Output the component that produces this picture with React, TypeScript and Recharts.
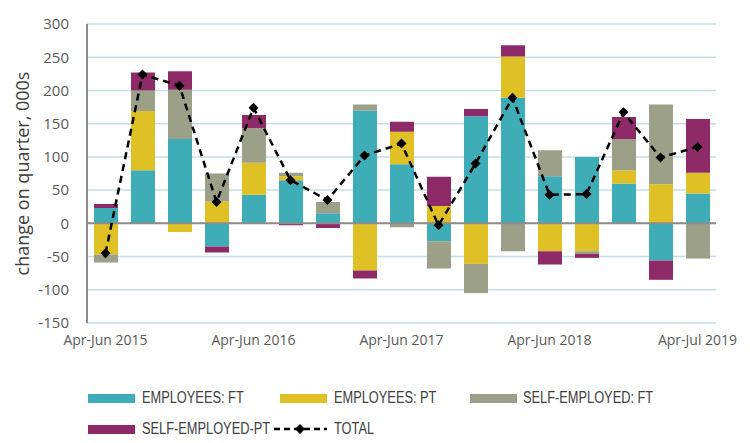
import { ComposedChart, Bar, Line, XAxis, YAxis, CartesianGrid, ReferenceLine } from "recharts"

const CATEGORIES = [
  "Apr-Jun 2015", "Jul-Sep 2015", "Oct-Dec 2015", "Jan-Mar 2016",
  "Apr-Jun 2016", "Jul-Sep 2016", "Oct-Dec 2016", "Jan-Mar 2017",
  "Apr-Jun 2017", "Jul-Sep 2017", "Oct-Dec 2017", "Jan-Mar 2018",
  "Apr-Jun 2018", "Jul-Sep 2018", "Oct-Dec 2018", "Jan-Mar 2019",
  "Apr-Jul 2019",
]
const EMP_FT = [23, 80, 127, -35, 43, 65, 15, 170, 89, -27, 161, 189, 71, 100, 60, -56, 45]
const EMP_PT = [-47, 89, -13, 33, 48, 6, 0, -71, 49, 26, -61, 62, -42, -42, 20, 59, 31]
const SELF_FT = [-12, 31, 74, 42, 52, 5, 17, 9, -6, -41, -44, -42, 39, -4, 47, 120, -53]
const SELF_PT = [6, 27, 28, -9, 20, -3, -7, -12, 15, 44, 11, 17, -20, -6, 33, -29, 81]
const TOTAL = [-45, 224, 207, 32, 174, 65, 35, 102, 120, -3, 90, 189, 43, 44, 167, 99, 115]
const Y_TICKS = [-150, -100, -50, 0, 50, 100, 150, 200, 250, 300]

const TEAL = "#3fadb7"
const YELLOW = "#dfc126"
const GREY = "#9da088"
const PURPLE = "#8f2a69"

const data = CATEGORIES.map((name, i) => ({
  name,
  empFt: EMP_FT[i],
  empPt: EMP_PT[i],
  selfFt: SELF_FT[i],
  selfPt: SELF_PT[i],
  total: TOTAL[i],
}))

const Diamond = (props: any) => {
  const { cx, cy } = props
  if (cx == null || cy == null) return null
  const r = 5
  return <polygon points={`${cx},${cy - r} ${cx + r},${cy} ${cx},${cy + r} ${cx - r},${cy}`} fill="#000" />
}

// condensed look: normal sans squeezed horizontally
const legendText = {
  fontFamily: "'Liberation Sans', sans-serif",
  fontSize: 16,
  color: "#404040",
  position: "absolute" as const,
  lineHeight: "18px",
  whiteSpace: "nowrap" as const,
  transform: "scaleX(0.8)",
  transformOrigin: "left center",
}

const Swatch = ({ left, top, color }: { left: number; top: number; color: string }) => (
  <div style={{ position: "absolute", left, top, width: 47, height: 9, background: color }} />
)

export default function App() {
  return (
    <div style={{ position: "absolute", left: 0, top: 0, width: 750, height: 443, background: "#fff" }}>
      <ComposedChart
        width={750}
        height={443}
        data={data}
        stackOffset="sign"
        margin={{ top: 24, right: 34, bottom: 90, left: 0 }}
      >
        <CartesianGrid vertical={false} stroke="#c3dfe4" strokeWidth={1.5} />
        <XAxis
          dataKey="name"
          interval={3}
          axisLine={false}
          tickLine={false}
          tickSize={0}
          tickMargin={12}
          height={30}
          tick={{ fill: "#595959", fontSize: 14, fontFamily: "'Open Sans', sans-serif" }}
        />
        <YAxis
          width={87}
          domain={[-150, 300]}
          ticks={Y_TICKS}
          allowDataOverflow
          axisLine={{ stroke: "#8c8c8c", strokeWidth: 2 }}
          tickLine={false}
          tickSize={0}
          tickMargin={18}
          tick={{ fill: "#595959", fontSize: 15, fontFamily: "'Open Sans', sans-serif" }}
          label={({ viewBox }: any) => {
            const cy = viewBox.y + viewBox.height / 2
            return (
              <text
                x={22}
                y={cy}
                transform={`rotate(-90 22 ${cy})`}
                textAnchor="middle"
                dominantBaseline="central"
                fill="#404040"
                fontSize={18}
                fontFamily="'Open Sans', sans-serif"
              >
                change on quarter, 000s
              </text>
            )
          }}
        />
        <Bar dataKey="empFt" stackId="a" fill={TEAL} barSize={24} isAnimationActive={false} />
        <Bar dataKey="empPt" stackId="a" fill={YELLOW} barSize={24} isAnimationActive={false} />
        <Bar dataKey="selfFt" stackId="a" fill={GREY} barSize={24} isAnimationActive={false} />
        <Bar dataKey="selfPt" stackId="a" fill={PURPLE} barSize={24} isAnimationActive={false} />
        <ReferenceLine y={0} stroke="#8c8c8c" strokeWidth={2} />
        <Line
          dataKey="total"
          type="linear"
          stroke="#000"
          strokeWidth={2.5}
          strokeDasharray="7 5"
          dot={<Diamond />}
          activeDot={false}
          isAnimationActive={false}
        />
      </ComposedChart>

      <Swatch left={88} top={394} color={TEAL} />
      <div style={{ ...legendText, left: 142, top: 389 }}>EMPLOYEES: FT</div>
      <Swatch left={280} top={394} color={YELLOW} />
      <div style={{ ...legendText, left: 334, top: 389 }}>EMPLOYEES: PT</div>
      <Swatch left={470} top={394} color={GREY} />
      <div style={{ ...legendText, left: 523, top: 389 }}>SELF-EMPLOYED: FT</div>

      <Swatch left={88} top={425} color={PURPLE} />
      <div style={{ ...legendText, left: 142, top: 420 }}>SELF-EMPLOYED-PT</div>
      <svg style={{ position: "absolute", left: 273, top: 421 }} width={55} height={16}>
        <line x1={1} y1={8} x2={54} y2={8} stroke="#000" strokeWidth={2.5} strokeDasharray="6 4" />
        <polygon points="27,3 32,8 27,13 22,8" fill="#000" />
      </svg>
      <div style={{ ...legendText, left: 334, top: 420 }}>TOTAL</div>
    </div>
  )
}
